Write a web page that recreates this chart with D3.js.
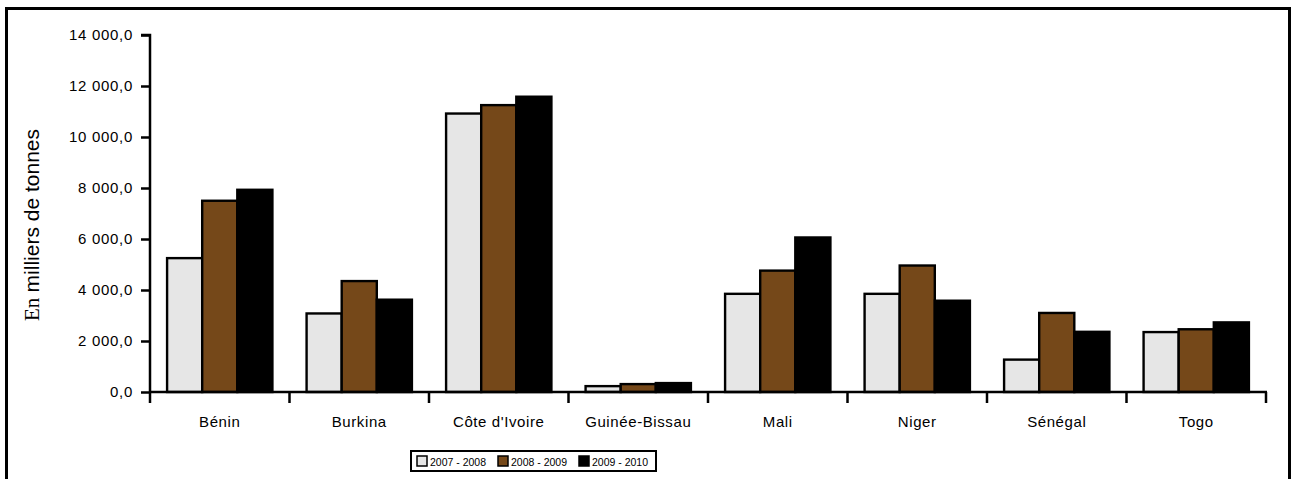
<!DOCTYPE html>
<html>
<head>
<meta charset="utf-8">
<script src="https://cdn.jsdelivr.net/npm/d3@7"></script>
<style>
  html, body { margin: 0; padding: 0; background: #fff; }
  svg { display: block; }
</style>
</head>
<body>
<svg id="chart" width="1295" height="479"></svg>
<script>
// Production par pays et par campagne (milliers de tonnes)
const countries = ["Bénin", "Burkina", "Côte d'Ivoire", "Guinée-Bissau", "Mali", "Niger", "Sénégal", "Togo"];
const seasons = ["2007 - 2008", "2008 - 2009", "2009 - 2010"];
const values2007 = [5250, 3080, 10920, 230, 3850, 3850, 1270, 2350];
const values2008 = [7500, 4350, 11250, 310, 4760, 4960, 3100, 2460];
const values2009 = [7930, 3620, 11580, 350, 6060, 3580, 2360, 2730];
const yTicks = [0, 2000, 4000, 6000, 8000, 10000, 12000, 14000];
const seasonColors = ["#e6e6e6", "#754819", "#000000"];

const series = [values2007, values2008, values2009];

const svg = d3.select("#chart");
const SANS = "Arial, 'Liberation Sans', sans-serif";

// outer frame
svg.append("rect")
  .attr("x", 6.5).attr("y", 8.5)
  .attr("width", 1283).attr("height", 480)
  .attr("fill", "none").attr("stroke", "#000").attr("stroke-width", 3);

const plot = { left: 150, right: 1266, top: 35, bottom: 392 };

const x = d3.scaleBand().domain(countries).range([plot.left, plot.right]).paddingInner(0).paddingOuter(0);
const groupWidth = x.bandwidth() * 0.755;
const xs = d3.scaleBand().domain(d3.range(seasons.length)).range([0, groupWidth]).padding(0);
const y = d3.scaleLinear().domain([0, 14000]).range([plot.bottom, plot.top]);

const fmt = v => {
  const s = d3.format(".1f")(v).replace(".", ",");
  const [ip, dp] = s.split(",");
  return ip.replace(/\B(?=(\d{3})+(?!\d))/g, " ") + "," + dp;
};

// bars
const g = svg.append("g");
countries.forEach((c, i) => {
  const gx = x(c) + (x.bandwidth() - groupWidth) / 2;
  series.forEach((vals, k) => {
    g.append("rect")
      .attr("x", gx + xs(k))
      .attr("y", y(vals[i]))
      .attr("width", xs.bandwidth())
      .attr("height", y(0) - y(vals[i]))
      .attr("fill", seasonColors[k])
      .attr("stroke", "#000")
      .attr("stroke-width", 2.4);
  });
});

// y axis
const yAxis = d3.axisLeft(y).tickValues(yTicks).tickFormat(fmt).tickSize(9).tickPadding(8);
const ya = svg.append("g").attr("transform", `translate(${plot.left},0)`).call(yAxis);
ya.select(".domain").attr("stroke-width", 2.5).attr("d", `M-9,${plot.top}H0V${plot.bottom}`);
ya.selectAll(".tick line").attr("stroke-width", 2.5);
ya.selectAll("text")
  .attr("font-family", SANS).attr("font-size", 15)
  .attr("letter-spacing", 0.7).attr("fill", "#000");

// x axis with ticks between categories
const xa = svg.append("g");
xa.append("line")
  .attr("x1", plot.left - 1).attr("x2", plot.right + 1)
  .attr("y1", plot.bottom).attr("y2", plot.bottom)
  .attr("stroke", "#000").attr("stroke-width", 2.5);
const bounds = countries.map(c => x(c)).concat([plot.right]);
xa.selectAll("line.tk").data(bounds).join("line")
  .attr("class", "tk")
  .attr("x1", d => d).attr("x2", d => d)
  .attr("y1", plot.bottom).attr("y2", plot.bottom + 11)
  .attr("stroke", "#000").attr("stroke-width", 2.5);
xa.selectAll("text").data(countries).join("text")
  .attr("x", d => x(d) + x.bandwidth() / 2)
  .attr("y", 427)
  .attr("text-anchor", "middle")
  .attr("font-family", SANS)
  .attr("font-size", 15)
  .attr("letter-spacing", 0.6)
  .text(d => d);

// y axis title
const yt = svg.append("text")
  .attr("transform", `translate(39,225) rotate(-90)`)
  .attr("text-anchor", "middle")
  .attr("font-size", 21)
  .attr("fill", "#000");
yt.append("tspan").attr("font-family", "'Liberation Serif', 'Times New Roman', serif").text("En ");
yt.append("tspan").attr("font-family", SANS).text("milliers de tonnes");

// legend
const lg = svg.append("g");
lg.append("rect")
  .attr("x", 411).attr("y", 451)
  .attr("width", 245).attr("height", 20)
  .attr("fill", "#fff").attr("stroke", "#000").attr("stroke-width", 2);
const legendX = [417, 498, 579];
seasons.forEach((s, k) => {
  lg.append("rect")
    .attr("x", legendX[k]).attr("y", 456)
    .attr("width", 10).attr("height", 10)
    .attr("fill", seasonColors[k]).attr("stroke", "#000").attr("stroke-width", 1.5);
  lg.append("text")
    .attr("x", legendX[k] + 13).attr("y", 465.5)
    .attr("font-family", SANS)
    .attr("font-size", 10.5)
    .text(s);
});
</script>
</body>
</html>
